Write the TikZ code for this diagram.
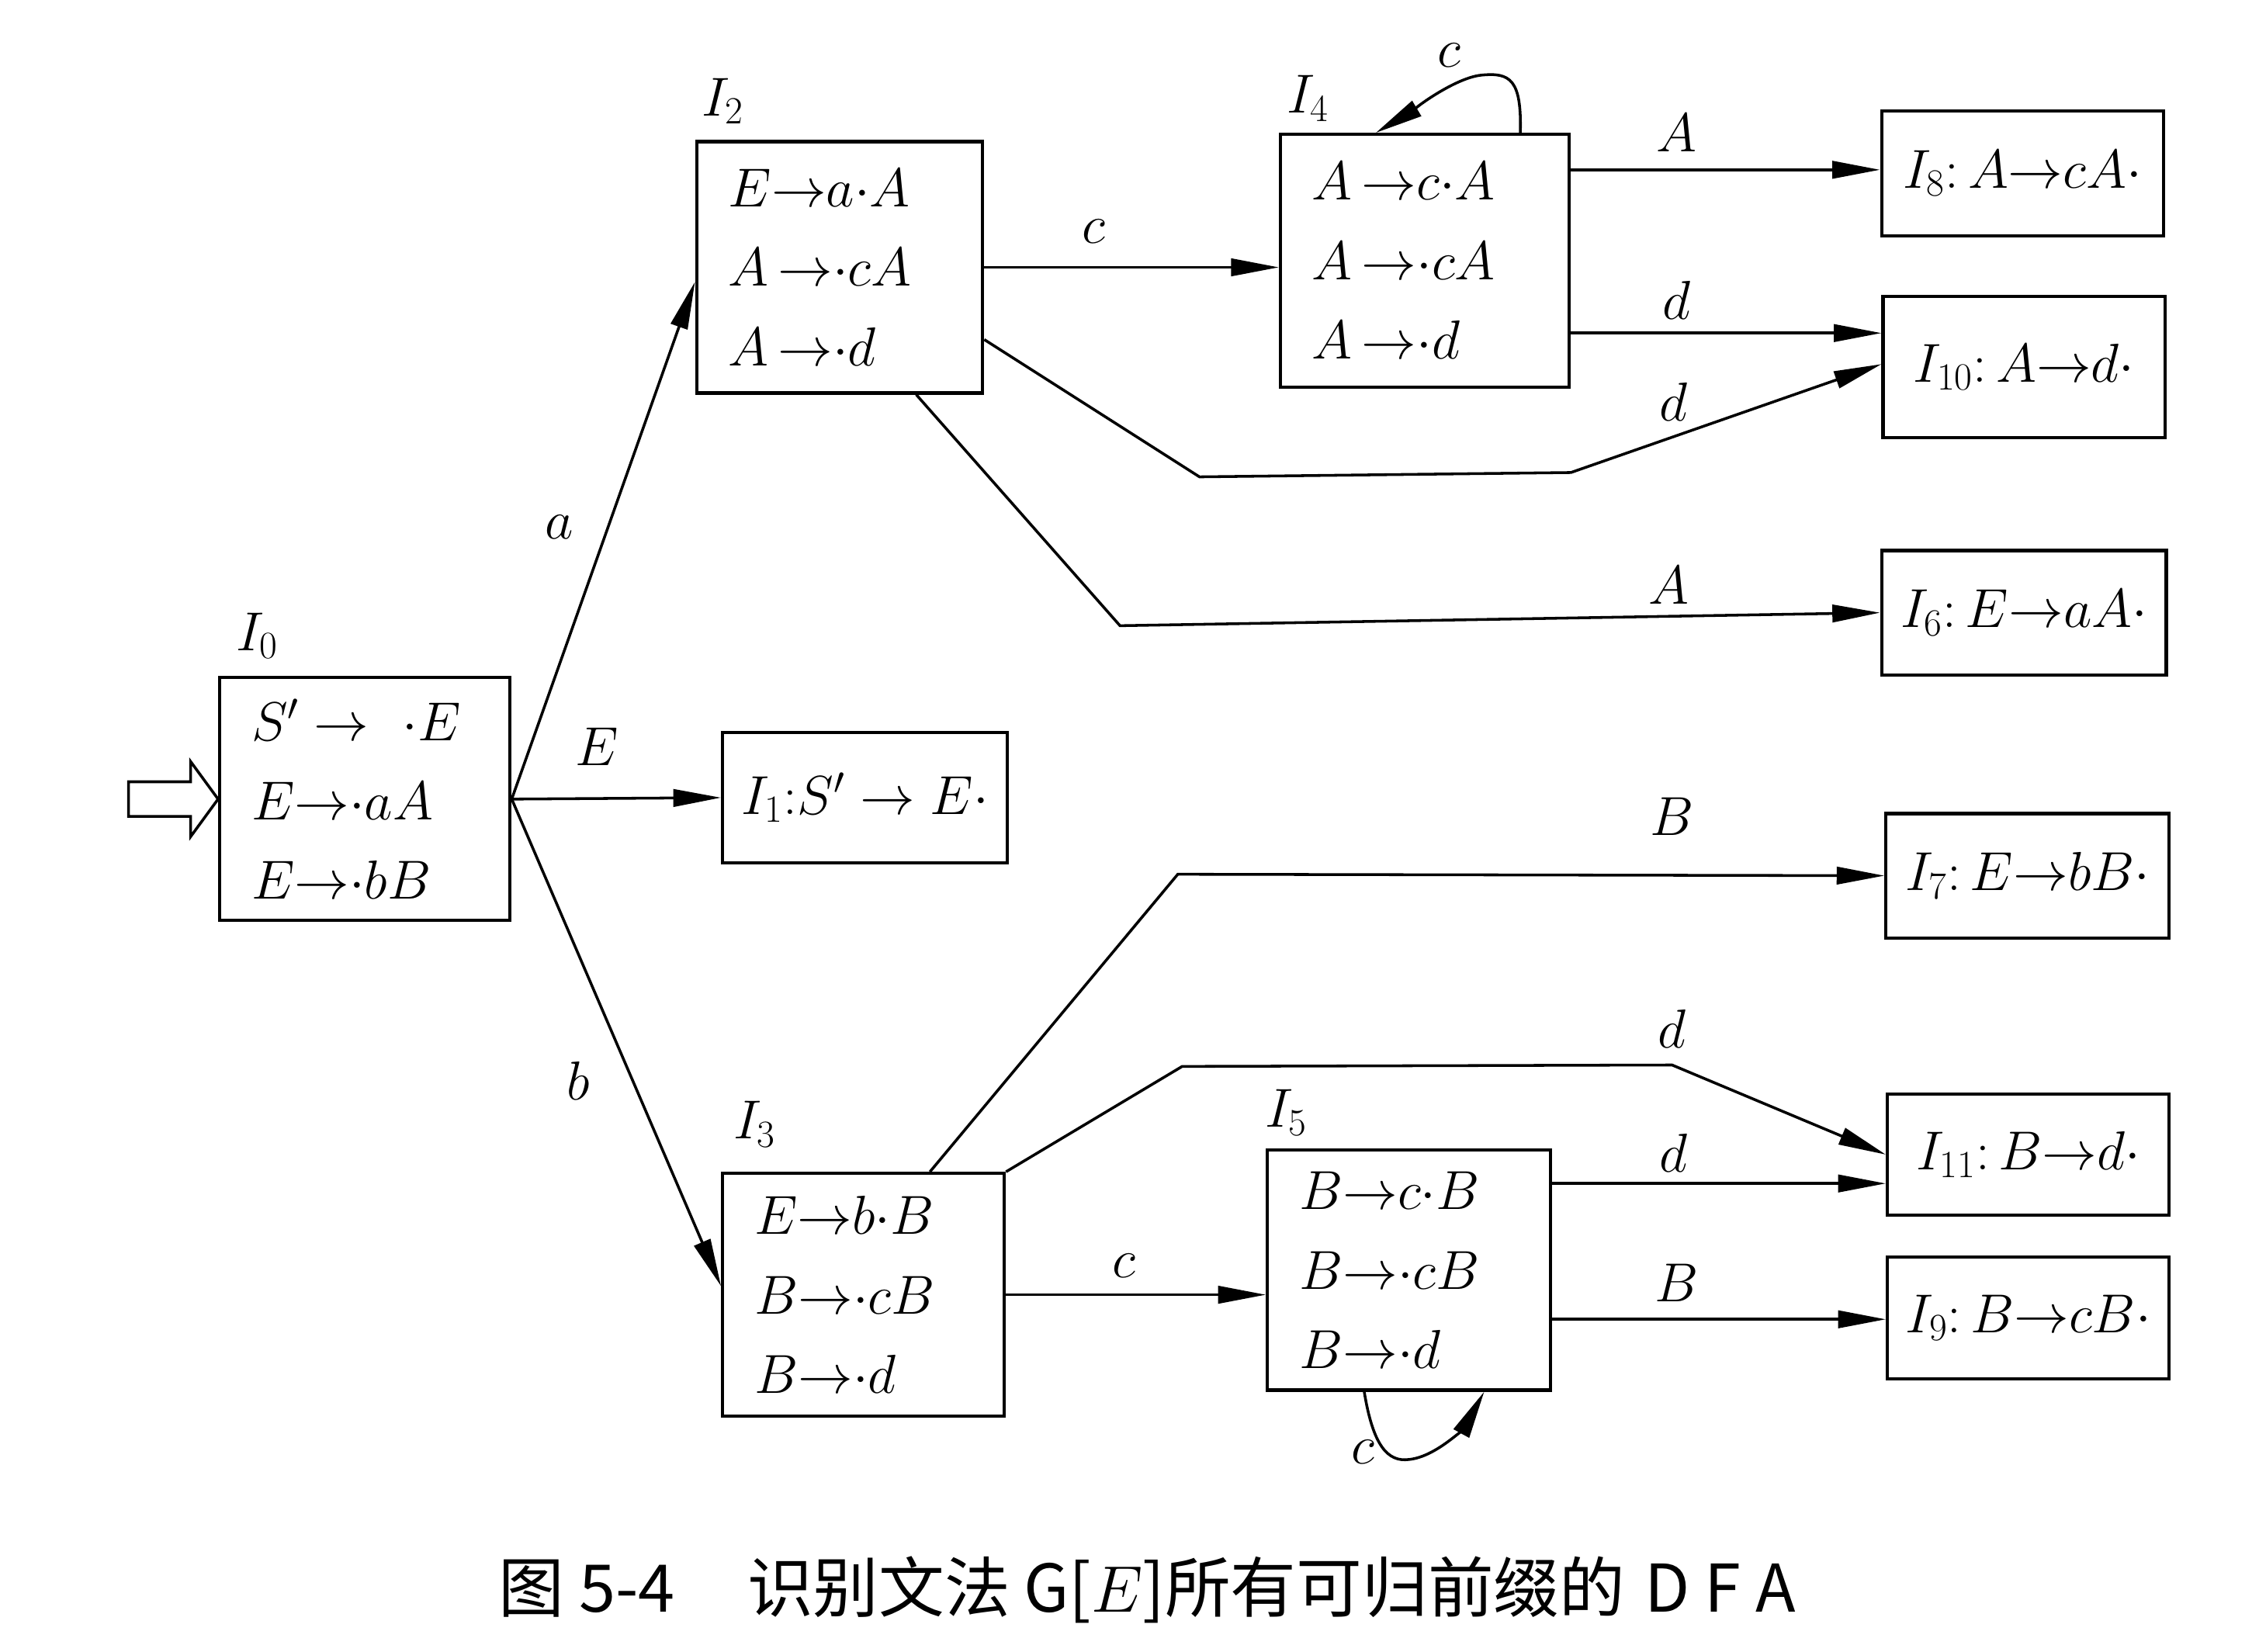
\RequirePackage{fix-cm}
\documentclass[tikz,border=0pt]{standalone}
\usepackage{fontspec}
\newfontfamily\cjk{Noto Sans CJK SC}
\usetikzlibrary{calc,arrows.meta}
\begin{document}
\begin{tikzpicture}[x=1pt,y=-1pt,
  every node/.style={font=\fontsize{38}{55}\selectfont},
  box/.style={draw,line width=2.2pt,inner xsep=22pt,inner ysep=0pt,align=left},
  sbox/.style={draw,line width=2.2pt,inner sep=0pt,align=center},
  lbl/.style={inner sep=0pt},
  edge/.style={line width=1.9pt,-{Triangle[length=33pt,width=12pt]}}]
\fill[white] (0,0) rectangle (1568,1143);
\useasboundingbox (0,0) rectangle (1568,1143);

% states
\node[box,minimum width=201pt,minimum height=168pt,text width=157pt] (I0) at (252.5,553)
  {$S'\rightarrow\ {\cdot}E$\\ $E{\rightarrow}{\cdot}aA$\\ $E{\rightarrow}{\cdot}bB$};
\node[sbox,minimum width=197pt,minimum height=90pt] (I1) at (598.5,552) {$I_1{:}S'\rightarrow E{\cdot}$};
\node[box,minimum width=198pt,minimum height=174pt,text width=154pt] (I2) at (581,185)
  {$E{\rightarrow}a{\cdot}A$\\ $A\,{\rightarrow}{\cdot}cA$\\ $A\,{\rightarrow}{\cdot}d$};
\node[box,minimum width=200pt,minimum height=175pt,text width=156pt] (I4) at (986,180.5)
  {$A\,{\rightarrow}c{\cdot}A$\\ $A\,{\rightarrow}{\cdot}cA$\\ $A\,{\rightarrow}{\cdot}d$};
\node[box,minimum width=195pt,minimum height=168pt,text width=151pt] (I3) at (597.5,896)
  {$E{\rightarrow}b{\cdot}B$\\ $B{\rightarrow}{\cdot}cB$\\ $B{\rightarrow}{\cdot}d$};
\node[box,minimum width=196pt,minimum height=166pt,text width=152pt] (I5) at (975,879)
  {$B{\rightarrow}c{\cdot}B$\\ $B{\rightarrow}{\cdot}cB$\\ $B{\rightarrow}{\cdot}d$};
\node[sbox,minimum width=195pt,minimum height=86pt] (I8) at (1399.5,120) {$I_8{:}\,A{\rightarrow}cA{\cdot}$};
\node[sbox,minimum width=195pt,minimum height=98pt] (I10) at (1400.5,254) {$I_{10}{:}\,A{\rightarrow}d{\cdot}$};
\node[sbox,minimum width=197pt,minimum height=86pt] (I6) at (1400.5,424) {$I_6{:}\,E{\rightarrow}aA{\cdot}$};
\node[sbox,minimum width=196pt,minimum height=86pt] (I7) at (1403,606) {$I_7{:}\,E{\rightarrow}bB{\cdot}$};
\node[sbox,minimum width=195pt,minimum height=84pt] (I11) at (1403.5,799) {$I_{11}{:}\,B{\rightarrow}d{\cdot}$};
\node[sbox,minimum width=195pt,minimum height=84pt] (I9) at (1403.5,912) {$I_9{:}\,B{\rightarrow}cB{\cdot}$};

% state names
\node[lbl] (L0) at (178,440) {$I_0$};
\node[lbl] (L2) at (500,70) {$I_2$};
\node[lbl] (L4) at (905,68) {$I_4$};
\node[lbl] (L3) at (522,778) {$I_3$};
\node[lbl] (L5) at (890,770) {$I_5$};

% start arrow
\draw[line width=1.9pt] (I0.west) -- ++(-19,-26) -- ++(0,14) -- ++(-43,0) -- ++(0,24) -- ++(43,0) -- ++(0,14) -- cycle;

% transitions
\draw[edge] (I0.east) -- ($(I2.west)+(0,10)$);
\draw[edge] (I0.east) -- (I1.west);
\draw[edge] (I0.east) -- ($(I3.west)+(0,-6)$);
\draw[edge] (I2.east) -- (I2.east -| I4.west);
\draw[edge] ($(I2.east)+(0,50)$) -- (830,330) -- (1087,327) -- ($(I10.west)+(0,-2)$);
\draw[edge] ($(I2.south)+(53,0)$) -- (775,433) -- (I6.west);
\draw[edge] ($(I4.east)+(0,-63)$) coordinate (a4) -- (a4 -| I8.west);
\draw[edge] ($(I4.east)+(0,50)$) coordinate (b4) -- (b4 -| I10.west);
\draw[edge] ($(I3.north)+(46,0)$) -- (815,605) -- (I7.west);
\draw[edge] (I3.north east) -- (818,738) -- (1157,737) -- (I11.west);
\draw[edge] (I3.east) -- (I3.east -| I5.west);
\draw[edge] ($(I5.east)+(0,-60)$) coordinate (a5) -- (a5 -| I11.west);
\draw[edge] ($(I5.east)+(0,34)$) coordinate (b5) -- (b5 -| I9.west);
\draw[edge] ($(I4.north)+(66,0)$) .. controls (1053,55) and (1045,50) .. (1025,52)
  .. controls (1005,54) and (972,80) .. ($(I4.north)+(-34,0)$);
\draw[edge] ($(I5.south)+(-31,0)$) .. controls (950,1000) and (960,1012) .. (975,1010)
  .. controls (995,1008) and (1015,985) .. ($(I5.south)+(52,0)$);

% transition labels
\node[lbl] (ea) at (387,365) {$a$};
\node[lbl] (eE) at (413,517) {$E$};
\node[lbl] (eb) at (400,748) {$b$};
\node[lbl] (ec24) at (757,160) {$c$};
\node[lbl] (ed210) at (1158,278) {$d$};
\node[lbl] (eA26) at (1155,405) {$A$};
\node[lbl] (ec44) at (1003,38) {$c$};
\node[lbl] (eA48) at (1160,92) {$A$};
\node[lbl] (ed410) at (1160,208) {$d$};
\node[lbl] (eB37) at (1157,565) {$B$};
\node[lbl] (ed311) at (1157,712) {$d$};
\node[lbl] (ec35) at (778,876) {$c$};
\node[lbl] (ed511) at (1158,798) {$d$};
\node[lbl] (eB59) at (1160,888) {$B$};
\node[lbl] (ec55) at (943,1005) {$c$};

% caption
\node[anchor=west,inner sep=0pt,font=\cjk\fontsize{45.5}{50}\selectfont] (cap) at (345,1100)
  {图 5-4\hspace{1.1em}识别文法\hspace{0.2em}G[$E$]所有可归前缀的\hspace{0.3em}D\hspace{0.22em}F\hspace{0.22em}A};
\end{tikzpicture}
\end{document}
